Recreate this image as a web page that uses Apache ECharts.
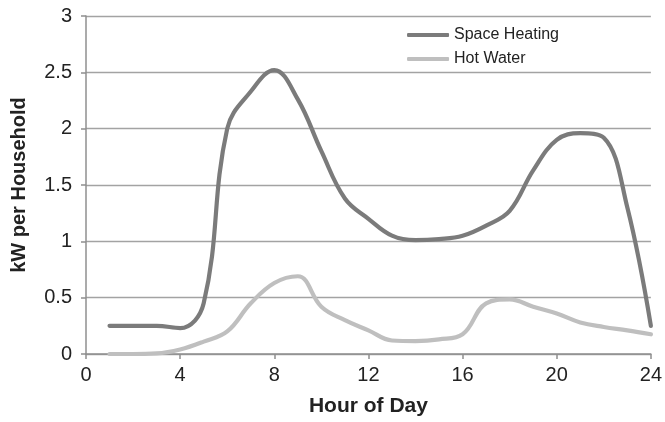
<!DOCTYPE html>
<html>
<head>
<meta charset="utf-8">
<script src="https://cdn.jsdelivr.net/npm/echarts@6/dist/echarts.min.js"></script>
<style>html,body{margin:0;padding:0;background:#fff}#c{width:665px;height:422px}</style>
</head>
<body>
<div id="c"></div>
<script>
var hours = [1,2,3,4,5,6,7,8,9,10,11,12,13,14,15,16,17,18,19,20,21,22,23,24];
var spaceHeating = [0.25,0.25,0.25,0.23,0.45,2.0,2.33,2.52,2.26,1.8,1.38,1.2,1.05,1.01,1.02,1.05,1.14,1.27,1.63,1.9,1.96,1.92,1.3,0.25];
var hotWater = [0.0,0.0,0.005,0.04,0.11,0.2,0.45,0.63,0.69,0.42,0.3,0.21,0.12,0.115,0.13,0.175,0.45,0.485,0.42,0.36,0.28,0.24,0.21,0.175];
var xTicks = [0,4,8,12,16,20,24];
var yTicks = [0,0.5,1,1.5,2,2.5,3];

function pairs(ys){ return hours.map(function(h,i){ return [h, ys[i]]; }); }

var chart = echarts.init(document.getElementById('c'), null, {renderer:'canvas'});
var font = 'Liberation Sans, Arial, sans-serif';
chart.setOption({
  animation:false,
  backgroundColor:'#fff',
  grid:{left:86, right:12.5, top:16, bottom:68, containLabel:false},
  legend:{
    right:101, top:22, orient:'vertical', itemGap:8, itemWidth:42, itemHeight:4,
    icon:'roundRect',
    textStyle:{fontFamily:font, fontSize:16, color:'#222'},
    data:['Space Heating','Hot Water']
  },
  xAxis:{
    type:'value', min:0, max:24, interval:4,
    name:'Hour of Day', nameLocation:'middle', nameGap:42,
    nameTextStyle:{fontFamily:font, fontSize:21, fontWeight:'bold', color:'#222'},
    axisLine:{show:true, lineStyle:{color:'#8f8f8f', width:1.5}},
    axisTick:{show:true, length:5, lineStyle:{color:'#8f8f8f', width:1.5}},
    axisLabel:{fontFamily:font, fontSize:20, color:'#222', margin:11,
      formatter:function(v){ return xTicks.indexOf(v)>=0 ? String(v) : ''; }},
    splitLine:{show:false}
  },
  yAxis:{
    type:'value', min:0, max:3, interval:0.5,
    name:'kW per Household', nameLocation:'middle', nameGap:57, nameRotate:90,
    nameTextStyle:{fontFamily:font, fontSize:20, fontWeight:'bold', color:'#222'},
    axisLine:{show:true, lineStyle:{color:'#8f8f8f', width:1.5}},
    axisTick:{show:true, length:5, lineStyle:{color:'#8f8f8f', width:1.5}},
    axisLabel:{fontFamily:font, fontSize:20, color:'#222', margin:14,
      formatter:function(v){ return yTicks.indexOf(v)>=0 ? String(v) : ''; }},
    splitLine:{show:true, lineStyle:{color:'#a3a3a3', width:1.3}}
  },
  series:[
    {name:'Space Heating', type:'line', data:pairs(spaceHeating), smooth:0.4, showSymbol:false,
     lineStyle:{color:'#7b7b7b', width:4.2, cap:'round', join:'round'}, itemStyle:{color:'#7b7b7b'}},
    {name:'Hot Water', type:'line', data:pairs(hotWater), smooth:0.4, showSymbol:false,
     lineStyle:{color:'#bfbfbf', width:4.2, cap:'round', join:'round'}, itemStyle:{color:'#bfbfbf'}}
  ]
});
</script>
</body>
</html>
